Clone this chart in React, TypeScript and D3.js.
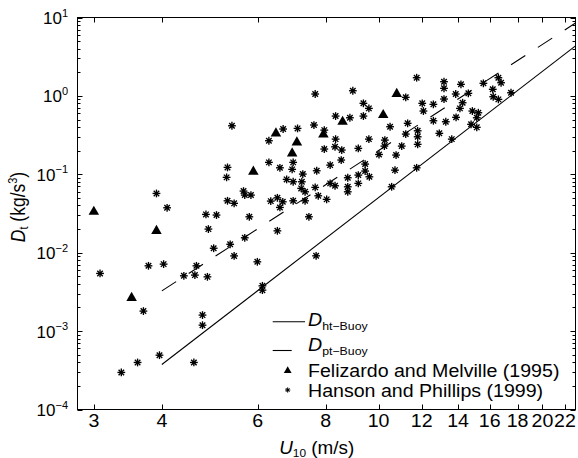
import React from 'react';
import * as d3 from 'd3';

const W = 578;
const H = 458;

const xTickValues = [3, 4, 6, 8, 10, 12, 14, 16, 18, 20, 22];
const yTickExponents = [-4, -3, -2, -1, 0, 1];

// Felizardo and Melville (1995) - triangles
const felizardoU = [3.0, 3.91, 3.52, 5.89, 6.48, 7.08, 6.94, 7.92, 8.59, 10.2, 10.8];
const felizardoD = [0.0333, 0.019, 0.00265, 0.108, 0.333, 0.255, 0.185, 0.323, 0.468, 0.57, 1.06];

// Hanson and Phillips (1999) - asterisks
const hansonU = [
  3.91, 4.09, 4.82, 5.04, 4.87, 4.98, 5.34, 5.43, 5.68, 5.28, 5.26, 5.65, 5.68, 5.83, 5.28, 5.43, 5.79,
  5.38, 6.29, 6.68, 7.10, 7.61, 6.29, 6.59, 6.97, 6.94, 7.26, 7.70, 6.78, 6.97, 7.23, 7.21, 7.33, 7.65,
  7.75, 6.34, 6.52, 6.67, 6.59, 6.97, 7.33, 7.45, 6.52,
  3.08, 3.78, 4.03, 3.70, 3.61, 3.37, 3.96, 4.58, 4.75, 4.75, 4.39, 4.60, 4.63, 4.85, 5.99, 6.12, 6.12, 7.68,
  7.65, 8.97, 11.75, 13.19, 13.19, 14.17, 13.86, 14.62, 15.58, 16.6, 16.79, 16.21, 16.24, 16.6, 17.51,
  11.22, 9.38, 9.60, 12.03, 12.09, 12.61, 13.19, 14.27, 14.11, 14.87, 15.25, 15.15, 14.79, 15.15, 13.88,
  13.29, 12.61, 12.93, 13.63, 11.75, 10.57, 10.72, 10.77, 11.03, 11.31, 10.5, 11.22, 11.8, 11.8, 11.8,
  10.02, 10.27, 10.25, 9.60, 9.18, 8.86, 9.38, 8.34, 7.95, 8.34, 7.95, 8.32, 8.56, 8.54, 8.15, 8.03,
  8.15, 8.32, 8.78, 8.78, 8.78, 9.18, 9.18, 9.45, 9.45, 9.62,
];
const hansonD = [
  0.057, 0.0374, 0.0308, 0.0302, 0.02, 0.0114, 0.0128, 0.0091, 0.0155, 0.1225, 0.0914, 0.0611, 0.0543, 0.0543, 0.0459, 0.0426, 0.0287,
  0.416, 0.268, 0.378, 0.385, 0.425, 0.142, 0.121, 0.142, 0.1156, 0.1007, 0.111, 0.0861, 0.0803, 0.0803, 0.0661, 0.0598, 0.0681,
  0.0532, 0.0455, 0.0501, 0.0446, 0.0378, 0.0459, 0.0459, 0.0287, 0.019,
  0.00544, 0.0068, 0.00715, 0.0018, 0.000398, 0.000297, 0.000493, 0.000398, 0.0016, 0.00119, 0.00507, 0.00518, 0.0068, 0.00492, 0.00765, 0.00378, 0.00333, 0.00912,
  1.057, 1.164, 1.706, 1.517, 1.248, 1.405, 1.057, 1.078, 1.446, 1.706, 1.472, 1.213, 0.976, 0.903, 1.097,
  0.959, 0.804, 0.693, 0.804, 0.641, 0.78, 0.912, 0.818, 0.693, 0.641, 0.61, 0.526, 0.434, 0.397, 0.533,
  0.468, 0.482, 0.333, 0.281, 0.121, 0.0693, 0.113, 0.176, 0.229, 0.447, 0.404, 0.326, 0.359, 0.301, 0.241,
  0.179, 0.273, 0.229, 0.281, 0.214, 0.526, 0.553, 0.553, 0.366, 0.281, 0.21, 0.224, 0.204, 0.152, 0.131, 0.0479,
  0.0766, 0.0714, 0.0904, 0.0693, 0.0598, 0.0977, 0.0766, 0.135, 0.11, 0.0929,
];

// Model lines (endpoints)
const htBuoyU = [4, 23];
const htBuoyD = [3.75e-4, 4.34];
const ptBuoyU = [4, 23];
const ptBuoyD = [3.26e-3, 8.5];

const FONT = 'Arial, "Liberation Sans", Helvetica, sans-serif';
const SX = 1.12;

function Star({ cx, cy, r, sw }: { cx: number; cy: number; r: number; sw: number }) {
  return (
    <g>
      {[0, 45, 90, 135].map((a) => {
        const rad = (a * Math.PI) / 180;
        const dx = r * Math.cos(rad);
        const dy = r * Math.sin(rad);
        return <line key={a} x1={cx - dx} y1={cy - dy} x2={cx + dx} y2={cy + dy} stroke="#000" strokeWidth={sw} />;
      })}
      <circle cx={cx} cy={cy} r={r * 0.45} fill="#000" />
    </g>
  );
}

export default function App() {
  const left = 77.5, right = 575.5, top = 17.5, bottom = 409.5;
  const x = d3.scaleLog().domain([2.8, 23]).range([left, right]);
  const y = d3.scaleLog().domain([1e-4, 10]).range([bottom, top]);
  const mk = (us: number[], ds: number[]) =>
    d3.line<[number, number]>().x((d) => x(d[0])).y((d) => y(d[1]))(us.map((u, i) => [u, ds[i]] as [number, number])) || '';

  const minorY: number[] = [];
  for (let e = -4; e < 1; e++) for (let k = 2; k <= 9; k++) minorY.push(k * Math.pow(10, e));

  const tri = d3.symbol(d3.symbolTriangle, 48)() || '';
  const triSmall = d3.symbol(d3.symbolTriangle, 26)() || '';

  return (
    <svg width={W} height={H} style={{ position: 'absolute', left: 0, top: 0, background: '#fff' }} fontFamily={FONT}>
      <defs>
        <clipPath id="plot">
          <rect x={left} y={top} width={right - left} height={bottom - top} />
        </clipPath>
      </defs>
      <rect x={0} y={0} width={W} height={H} fill="#fff" />

      {/* x ticks */}
      {xTickValues.map((t) => (
        <g key={'xt' + t}>
          <line x1={Math.round(x(t)) + 0.5} x2={Math.round(x(t)) + 0.5} y1={bottom} y2={bottom - 5} stroke="#000" />
          <line x1={Math.round(x(t)) + 0.5} x2={Math.round(x(t)) + 0.5} y1={top} y2={top + 5} stroke="#000" />
          <g transform={`translate(${x(t)},427) scale(${SX},1)`}>
            <text x={0} y={0} fontSize={17.5} textAnchor="middle">{t}</text>
          </g>
        </g>
      ))}
      {/* y ticks */}
      {yTickExponents.map((e) => {
        const yy = Math.round(y(Math.pow(10, e))) + 0.5;
        return (
          <g key={'yt' + e}>
            <line x1={left} x2={left + 5} y1={yy} y2={yy} stroke="#000" />
            <line x1={right} x2={right - 5} y1={yy} y2={yy} stroke="#000" />
            <text x={68} y={y(Math.pow(10, e)) + 6.5} fontSize={17} textAnchor="end">
              <tspan>10</tspan>
              <tspan fontSize={11} dy={-7.5}>{e < 0 ? '\u2212' + Math.abs(e) : String(e)}</tspan>
            </text>
          </g>
        );
      })}
      {minorY.map((v, i) => {
        const yy = Math.round(y(v)) + 0.5;
        return (
          <g key={'my' + i}>
            <line x1={left} x2={left + 3} y1={yy} y2={yy} stroke="#000" />
            <line x1={right} x2={right - 3} y1={yy} y2={yy} stroke="#000" />
          </g>
        );
      })}

      {/* model lines */}
      <g clipPath="url(#plot)">
        <path d={mk(htBuoyU, htBuoyD)} fill="none" stroke="#000" strokeWidth={1.1} />
        <path d={mk(ptBuoyU, ptBuoyD)} fill="none" stroke="#000" strokeWidth={1.1} strokeDasharray="17,15" />
      </g>

      {/* data */}
      {hansonU.map((u, i) => (
        <Star key={'h' + i} cx={x(u)} cy={y(hansonD[i])} r={3.9} sw={1.35} />
      ))}
      {felizardoU.map((u, i) => (
        <path key={'f' + i} d={tri} transform={`translate(${x(u)},${y(felizardoD[i])})`} fill="#000" />
      ))}

      {/* frame */}
      <rect x={left} y={top} width={right - left} height={bottom - top} fill="none" stroke="#000" strokeWidth={1} />

      {/* legend */}
      <g>
        <line x1={272.7} x2={305} y1={321.7} y2={321.7} stroke="#000" strokeWidth={1.1} />
        <g transform={`translate(308,325.7) scale(${SX},1)`}>
          <text x={0} y={0} fontSize={17.5}>
            <tspan fontStyle="italic">D</tspan>
            <tspan fontSize={11} dy={4}>ht{'\u2212'}Buoy</tspan>
          </text>
        </g>
        <line x1={272.7} x2={291.7} y1={350.5} y2={350.5} stroke="#000" strokeWidth={1.1} />
        <g transform={`translate(308,350.7) scale(${SX},1)`}>
          <text x={0} y={0} fontSize={17.5}>
            <tspan fontStyle="italic">D</tspan>
            <tspan fontSize={11} dy={4}>pt{'\u2212'}Buoy</tspan>
          </text>
        </g>
        <path d={triSmall} transform="translate(287.7,370.7)" fill="#000" />
        <g transform={`translate(308,377.3) scale(${SX},1)`}>
          <text x={0} y={0} fontSize={17.5}>Felizardo and Melville (1995)</text>
        </g>
        <Star cx={287.7} cy={390} r={2.6} sw={1} />
        <g transform={`translate(308,396.7) scale(${SX},1)`}>
          <text x={0} y={0} fontSize={17.5}>Hanson and Phillips (1999)</text>
        </g>
      </g>

      {/* axis labels */}
      <g transform={`translate(316.7,454) scale(1.08,1)`}>
        <text x={0} y={0} fontSize={17.5} textAnchor="middle">
          <tspan fontStyle="italic">U</tspan>
          <tspan fontSize={11} dy={3}>10</tspan>
          <tspan dy={-3}> (m/s)</tspan>
        </text>
      </g>
      <g transform={`translate(24.5,207) scale(1.12,1) rotate(-90)`}>
        <text x={0} y={0} fontSize={17.5} textAnchor="middle">
          <tspan fontStyle="italic">D</tspan>
          <tspan fontSize={11} dy={3}>t</tspan>
          <tspan dy={-3}> (kg/s</tspan>
          <tspan fontSize={11} dy={-7}>3</tspan>
          <tspan dy={7}>)</tspan>
        </text>
      </g>
    </svg>
  );
}
